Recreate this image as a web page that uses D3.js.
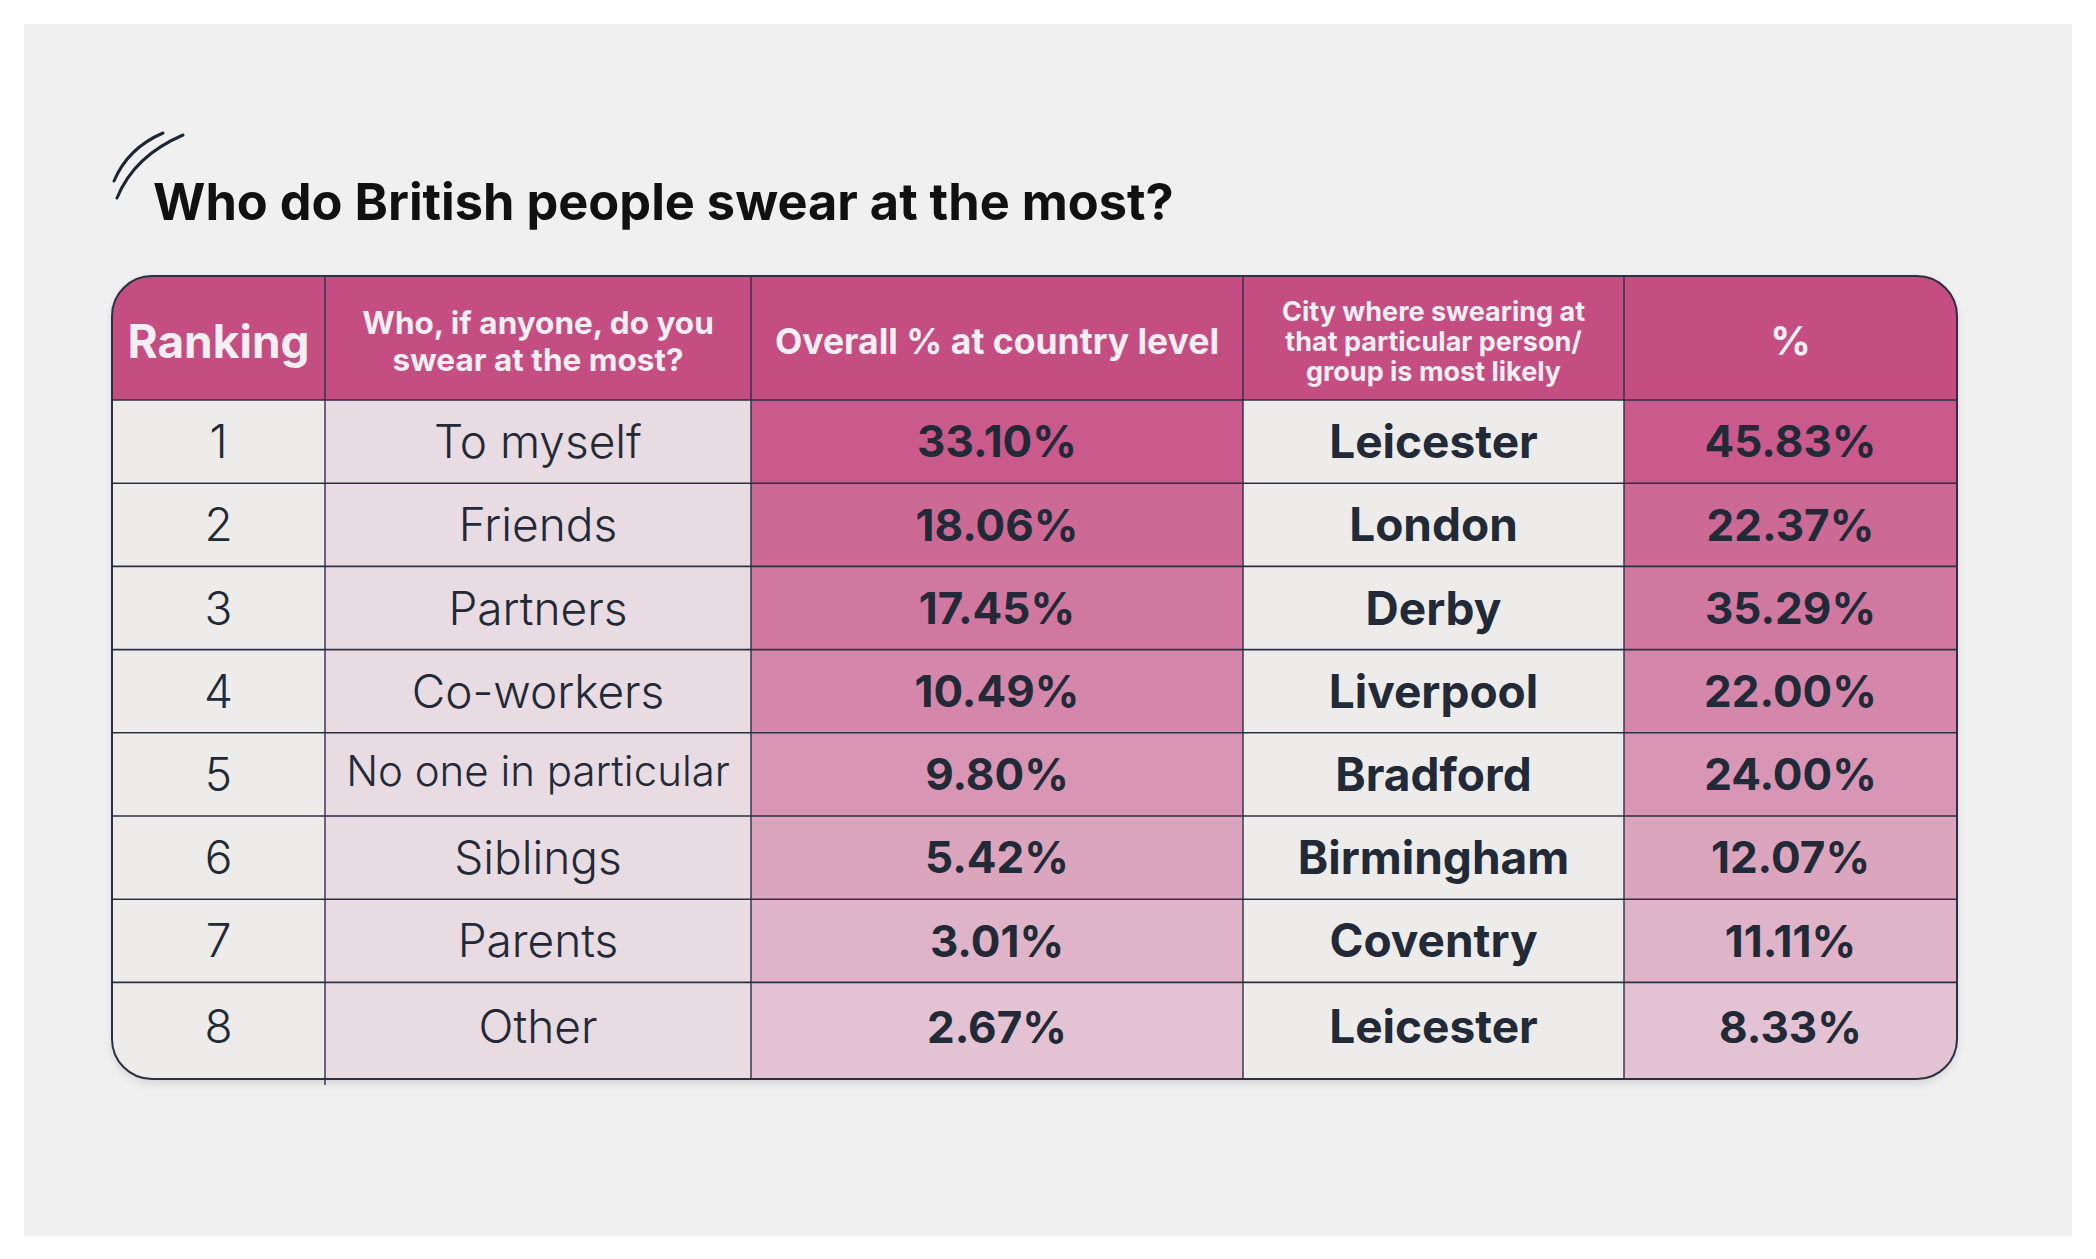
<!DOCTYPE html>
<html>
<head>
<meta charset="utf-8">
<script src="https://cdn.jsdelivr.net/npm/d3@7"></script>
<style>
  html, body { margin: 0; padding: 0; background: #ffffff; }
  svg { display: block; }
</style>
</head>
<body>
<div id="swear_table"></div>
<script>
// data
const rankings = [1, 2, 3, 4, 5, 6, 7, 8];
const targets = ["To myself", "Friends", "Partners", "Co-workers", "No one in particular", "Siblings", "Parents", "Other"];
const overallPct = [33.10, 18.06, 17.45, 10.49, 9.80, 5.42, 3.01, 2.67];
const cities = ["Leicester", "London", "Derby", "Liverpool", "Bradford", "Birmingham", "Coventry", "Leicester"];
const cityPct = [45.83, 22.37, 35.29, 22.00, 24.00, 12.07, 11.11, 8.33];
const headers = [
    ["Ranking"],
    ["Who, if anyone, do you", "swear at the most?"],
    ["Overall % at country level"],
    ["City where swearing at", "that particular person/", "group is most likely"],
    ["%"]
];
const title = "Who do British people swear at the most?";

// page size
const W = 2096, H = 1259;

const svg = d3.select("#swear_table")
    .append("svg")
    .attr("width", W)
    .attr("height", H);

// grey panel
svg.append("rect")
    .attr("x", 24).attr("y", 24)
    .attr("width", 2048).attr("height", 1212)
    .attr("fill", "#f0f0f0");

// little double slash before the title
svg.append("path")
    .attr("d", "M114,181 Q128,148 163,133")
    .attr("fill", "none").attr("stroke", "#1f2633")
    .attr("stroke-width", 3).attr("stroke-linecap", "round");
svg.append("path")
    .attr("d", "M117,198 Q134,156 183,135")
    .attr("fill", "none").attr("stroke", "#1f2633")
    .attr("stroke-width", 3).attr("stroke-linecap", "round");

svg.append("text")
    .attr("x", 153)
    .attr("y", 220)
    .style("font-family", "Inter, 'Noto Sans', sans-serif")
    .style("font-weight", 700)
    .style("font-size", "50.5px")
    .style("fill", "#111111")
    .text(title);

/////////////
// TABLE ////
/////////////
const tableLeft = 112, tableRight = 1957, tableTop = 276, headBottom = 400, tableBottom = 1079;
const radius = 40;

// column edges (relative widths of the five columns)
const colWidths = [213, 426, 492, 381, 333];
const colEdges = [tableLeft];
colWidths.forEach(w => colEdges.push(colEdges[colEdges.length - 1] + w));
const colX = i => colEdges[i];
const colMid = i => (colEdges[i] + colEdges[i + 1]) / 2;

// rows: band scale for the 8 body rows, last row taller down to the bottom
const y = d3.scaleBand()
    .domain(rankings)
    .range([headBottom, headBottom + 8 * 83.2]);
const lastRank = rankings[rankings.length - 1];
const rowTop = r => y(r);
const rowBottom = r => r === lastRank ? tableBottom : y(r) + y.bandwidth();
const rowMid = r => r === lastRank ? (rowTop(r) + rowBottom(r)) / 2 - 4 : y(r) + y.bandwidth() / 2;

// colour by rank for the two percentage columns
const pink = d3.scaleLinear()
    .domain([1, 8])
    .range(["#c95a8b", "#e3c3d3"])
    .interpolate(d3.interpolateRgb);

const lineColor = "#2b3142";
const textColor = "#222a38";

// drop shadow under the table
const defs = svg.append("defs");
const shadow = defs.append("filter").attr("id", "shadow")
    .attr("x", "-5%").attr("y", "-5%").attr("width", "110%").attr("height", "115%");
shadow.append("feDropShadow")
    .attr("dx", 0).attr("dy", 4).attr("stdDeviation", 4)
    .attr("flood-color", "#000").attr("flood-opacity", 0.12);

defs.append("clipPath").attr("id", "tableclip")
    .append("rect")
    .attr("x", tableLeft).attr("y", tableTop)
    .attr("width", tableRight - tableLeft).attr("height", tableBottom - tableTop)
    .attr("rx", radius).attr("ry", radius);

svg.append("rect")
    .attr("x", tableLeft).attr("y", tableTop)
    .attr("width", tableRight - tableLeft).attr("height", tableBottom - tableTop)
    .attr("rx", radius).attr("ry", radius)
    .attr("fill", "#eeeceb")
    .attr("filter", "url(#shadow)");

const table = svg.append("g").attr("clip-path", "url(#tableclip)");

// header band
table.append("rect")
    .attr("x", tableLeft).attr("y", tableTop)
    .attr("width", tableRight - tableLeft).attr("height", headBottom - tableTop)
    .attr("fill", "#c44d82");

// body cells
const cellFill = [
    r => "#eeeceb",
    r => "#e8dbe1",
    r => pink(r),
    r => "#eeeceb",
    r => pink(r)
];

const rows = table.selectAll("g.row")
    .data(rankings)
    .join("g")
    .attr("class", "row");

colWidths.forEach(function(w, c) {
    rows.append("rect")
        .attr("x", colX(c))
        .attr("y", d => rowTop(d))
        .attr("width", w)
        .attr("height", d => rowBottom(d) - rowTop(d))
        .attr("fill", d => cellFill[c](d));
});

// grid lines
table.selectAll("line.hline")
    .data(rankings)
    .join("line")
    .attr("class", "hline")
    .attr("x1", tableLeft).attr("x2", tableRight)
    .attr("y1", d => rowTop(d)).attr("y2", d => rowTop(d))
    .attr("stroke", lineColor).attr("stroke-width", 1.6);

svg.selectAll("line.vline")
    .data(colEdges.slice(1, -1))
    .join("line")
    .attr("class", "vline")
    .attr("x1", d => d).attr("x2", d => d)
    .attr("y1", tableTop).attr("y2", (d, i) => i === 0 ? tableBottom + 6 : tableBottom)
    .attr("stroke", lineColor).attr("stroke-width", 1.4);

// outer border
svg.append("rect")
    .attr("x", tableLeft).attr("y", tableTop)
    .attr("width", tableRight - tableLeft).attr("height", tableBottom - tableTop)
    .attr("rx", radius).attr("ry", radius)
    .attr("fill", "none")
    .attr("stroke", lineColor).attr("stroke-width", 2);

// header text
const headSize = [46, 31.5, 35.5, 27, 40];
const headLead = [0, 37, 0, 30, 0];
headers.forEach(function(lines, c) {
    const mid = (tableTop + headBottom) / 2 + 3;
    const t = svg.append("text")
        .attr("text-anchor", "middle")
        .style("font-family", "Inter, 'Noto Sans', sans-serif")
        .style("font-weight", 700)
        .style("font-size", headSize[c] + "px")
        .style("fill", "#f6eef3");
    lines.forEach(function(l, i) {
        t.append("tspan")
            .attr("x", colMid(c))
            .attr("y", mid + (i - (lines.length - 1) / 2) * headLead[c])
            .attr("dy", "0.36em")
            .text(l);
    });
});

// body text
const fmt = d => d3.format(".2f")(d) + "%";
const bodyCols = [
    {values: rankings.map(String), weight: 300, size: 46},
    {values: targets, weight: 300, size: 46},
    {values: overallPct.map(fmt), weight: 700, size: 44},
    {values: cities, weight: 700, size: 46},
    {values: cityPct.map(fmt), weight: 700, size: 44}
];

bodyCols.forEach(function(col, c) {
    svg.selectAll("text.c" + c)
        .data(rankings)
        .join("text")
        .attr("class", "c" + c)
        .attr("x", colMid(c))
        .attr("y", (d, i) => rowMid(d) - (c === 1 && targets[i].length > 14 ? 4 : 0))
        .attr("dy", "0.36em")
        .attr("text-anchor", "middle")
        .style("font-family", "Inter, 'Noto Sans', sans-serif")
        .style("font-weight", col.weight)
        .style("font-size", (d, i) => (c === 1 && targets[i].length > 14 ? 42 : col.size) + "px")
        .style("fill", textColor)
        .text((d, i) => col.values[i]);
});
</script>
</body>
</html>
